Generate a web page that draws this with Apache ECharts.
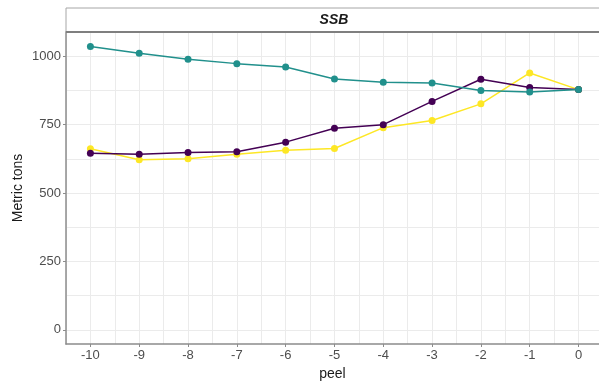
<!DOCTYPE html>
<html>
<head>
<meta charset="utf-8">
<script src="https://cdn.jsdelivr.net/npm/echarts@6/dist/echarts.min.js"></script>
<style>
  html, body { margin: 0; padding: 0; background: #fff; }
  #chart { width: 599px; height: 383px; }
</style>
</head>
<body>
<div id="chart"></div>
<script>
const peel = [-10, -9, -8, -7, -6, -5, -4, -3, -2, -1, 0]
const xTicks = [-10, -9, -8, -7, -6, -5, -4, -3, -2, -1, 0]
const xGrid = [-10.5, -10, -9.5, -9, -8.5, -8, -7.5, -7, -6.5, -6, -5.5, -5, -4.5, -4, -3.5, -3, -2.5, -2, -1.5, -1, -0.5, 0]
const yTicks = [0, 250, 500, 750, 1000]
const yGrid = [0, 125, 250, 375, 500, 625, 750, 875, 1000]

const ssbYellow = [662, 622, 625, 642, 656, 663, 739, 765, 826, 939, 878]
const ssbPurple = [645, 642, 648, 651, 686, 737, 750, 835, 916, 886, 878]
const ssbTeal = [1036, 1011, 989, 973, 961, 917, 905, 902, 875, 869, 878]

const colors = ['#FDE725', '#440154', '#21908C']
const axisGray = '#8c8c8c'
const gridGray = '#ebebeb'

// panel runs past the right edge of the picture, so the x range is cut at 0.42
const xMin = -10.5
const xMax = 0.42

const myChart = echarts.init(document.getElementById('chart'))

const mkSeries = (data, color) => ({
  type: 'line',
  data: peel.map((p, i) => [p, data[i]]),
  symbol: 'circle',
  symbolSize: 7,
  itemStyle: { color: color },
  lineStyle: { color: color, width: 1.5 }
})

let option = {
  animation: false,
  textStyle: { fontFamily: 'Liberation Sans' },
  grid: { left: 66, top: 32, right: 0, bottom: 39, outerBoundsMode: 'none', containLabel: false },
  graphic: [
    {
      type: 'rect',
      shape: { x: 66, y: 8, width: 560, height: 24 },
      style: { fill: '#fff', stroke: '#a6a6a6', lineWidth: 1 },
      z: 0
    },
    {
      type: 'line',
      shape: { x1: 66, y1: 32, x2: 599, y2: 32 },
      style: { stroke: '#7f7f7f', lineWidth: 2 },
      z: 10
    },
    {
      type: 'text',
      x: 334, y: 20,
      style: { text: 'SSB', fill: '#1a1a1a', align: 'center', verticalAlign: 'middle', font: 'italic bold 14px "Liberation Sans"' },
      z: 10
    }
  ],
  xAxis: [
    {
      type: 'value',
      min: xMin, max: xMax,
      name: 'peel', nameLocation: 'middle', nameGap: 23,
      nameTextStyle: { color: '#1a1a1a', fontSize: 14 },
      axisLine: { show: true, onZero: false, lineStyle: { color: axisGray, width: 1.5 } },
      axisTick: { show: true, length: 3, customValues: xTicks, lineStyle: { color: axisGray } },
      axisLabel: { customValues: xTicks, color: '#4d4d4d', fontSize: 13, margin: 5 },
      splitLine: { show: false }
    },
    {
      type: 'value',
      min: xMin, max: xMax,
      position: 'bottom',
      axisLine: { show: false, onZero: false },
      axisTick: { show: false, customValues: xGrid },
      axisLabel: { show: false, customValues: xGrid },
      splitLine: { show: true, lineStyle: { color: gridGray, width: 1 } }
    }
  ],
  yAxis: [
    {
      type: 'value',
      min: -51.8, max: 1088.6,
      name: 'Metric tons', nameLocation: 'middle', nameGap: 41, nameMoveOverlap: false,
      nameTextStyle: { color: '#1a1a1a', fontSize: 14 },
      axisLine: { show: true, onZero: false, lineStyle: { color: axisGray, width: 1.5 } },
      axisTick: { show: true, length: 3, customValues: yTicks, lineStyle: { color: axisGray } },
      axisLabel: { customValues: yTicks, color: '#4d4d4d', fontSize: 13, margin: 5, formatter: v => String(v) },
      splitLine: { show: false }
    },
    {
      type: 'value',
      min: -51.8, max: 1088.6,
      position: 'left',
      axisLine: { show: false, onZero: false },
      axisTick: { show: false, customValues: yGrid },
      axisLabel: { show: false, customValues: yGrid },
      splitLine: { show: true, lineStyle: { color: gridGray, width: 1 } }
    }
  ],
  series: [
    mkSeries(ssbYellow, colors[0]),
    mkSeries(ssbPurple, colors[1]),
    mkSeries(ssbTeal, colors[2])
  ]
}
myChart.setOption(option)
</script>
</body>
</html>
